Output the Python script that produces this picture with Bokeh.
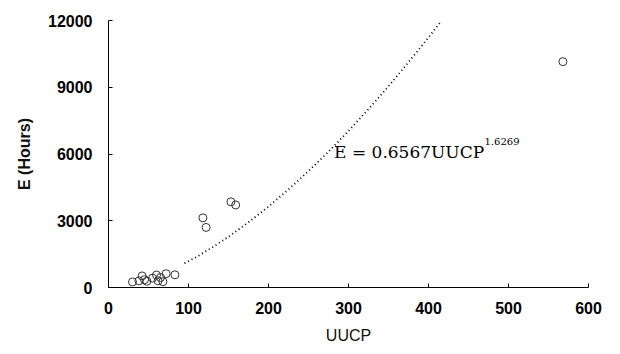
from bokeh.plotting import figure
from bokeh.models import Range1d, FixedTicker
from bokeh.core.properties import value
from bokeh.embed import file_html
from bokeh.resources import INLINE

# Observed projects (UUCP, effort hours)
uucp = [30, 38, 42, 45, 48, 55, 60, 62, 65, 68, 72, 83, 118, 122, 153, 159, 568]
hours = [250, 300, 520, 350, 280, 420, 560, 300, 450, 260, 620, 570, 3130, 2700, 3850, 3710, 10150]

# Power trend line: E = 0.6567 UUCP^1.6269
trend_x = [95, 110, 130, 150, 175, 200, 225, 250, 275, 300, 325, 350, 375, 400, 415]
trend_y = [1085, 1375, 1805, 2280, 2930, 3640, 4405, 5230, 6105, 7035, 8020, 9045, 10125, 11235, 11930]

x_ticks = [0, 100, 200, 300, 400, 500, 600]
y_ticks = [0, 3000, 6000, 9000, 12000]

p = figure(width=612, height=346, output_backend="svg", toolbar_location=None,
           x_range=Range1d(0, 600), y_range=Range1d(0, 12000),
           min_border_left=108, min_border_right=24, min_border_top=20, min_border_bottom=51)
p.outline_line_color = None
p.xgrid.visible = False
p.ygrid.visible = False
p.background_fill_color = "white"
p.border_fill_color = "white"

p.line(trend_x, trend_y, line_color="black", line_width=1.8, line_dash="1 3")
p.scatter(uucp, hours, size=8, marker="circle", fill_color=None,
          line_color="#333333", line_width=1)

p.text(x=[282], y=[6110], text=["E = 0.6567UUCP"], text_font=value("DejaVu Serif"),
       text_font_size="17px", text_baseline="middle", text_align="left", text_color="black")
p.text(x=[470], y=[6560], text=["1.6269"], text_font=value("DejaVu Serif"),
       text_font_size="10px", text_baseline="middle", text_align="left", text_color="black")

for ax, ticks in ((p.xaxis, x_ticks), (p.yaxis, y_ticks)):
    ax.ticker = FixedTicker(ticks=ticks)
    ax.major_tick_in = 4
    ax.major_tick_out = 0
    ax.minor_tick_in = 0
    ax.minor_tick_out = 0
    ax.axis_line_color = "black"
    ax.major_tick_line_color = "black"
    ax.major_label_text_font = "Liberation Sans"
    ax.major_label_text_font_size = "16px"
    ax.major_label_text_font_style = "bold"
    ax.major_label_text_color = "black"
    ax.axis_label_text_font = "Liberation Sans"
    ax.axis_label_text_font_size = "16px"
    ax.axis_label_text_font_style = "bold"
    ax.axis_label_text_color = "#111111"

p.xaxis.axis_label = "UUCP"
p.yaxis.axis_label = "E (Hours)"
p.xaxis.major_label_standoff = 14
p.yaxis.major_label_standoff = 16
p.xaxis.axis_label_standoff = 10
p.yaxis.axis_label_standoff = 12
p.xaxis.axis_label_text_font_style = "normal"

open("out.html", "w").write(file_html(p, INLINE))
